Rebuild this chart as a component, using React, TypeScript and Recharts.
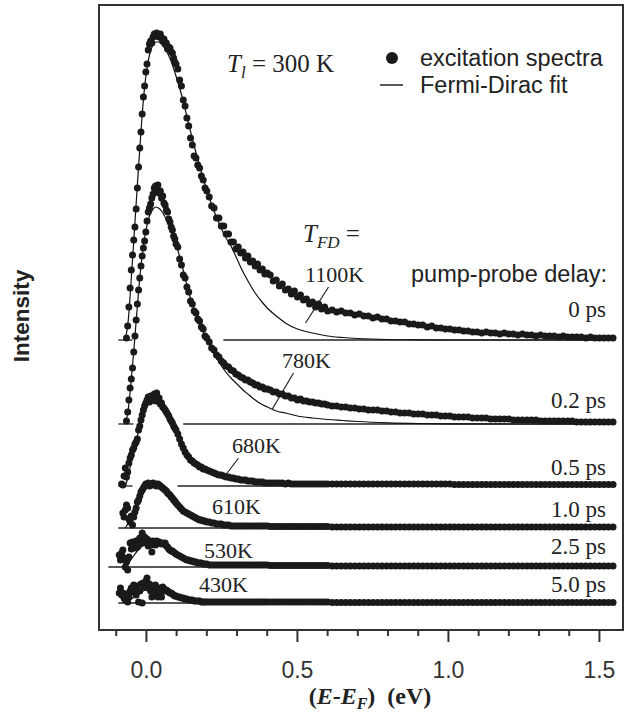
import React from 'react';
import { ComposedChart, Scatter, Line, XAxis, YAxis, ReferenceLine, ReferenceArea } from 'recharts';

// ---------------- DATA ----------------
// Energy grid (E - E_F, eV) shared by all measured spectra
const ENERGY = [
  -0.09, -0.086, -0.082, -0.078, -0.074, -0.07, -0.066, -0.062, -0.058, -0.054,
  -0.05, -0.046, -0.042, -0.038, -0.034, -0.03, -0.026, -0.022, -0.018, -0.014,
  -0.01, -0.006, -0.002, 0.002, 0.006, 0.01, 0.014, 0.018, 0.022, 0.026,
  0.03, 0.034, 0.038, 0.042, 0.046, 0.05, 0.054, 0.058, 0.062, 0.066,
  0.07, 0.074, 0.078, 0.082, 0.086, 0.09, 0.094, 0.098,
  0.104, 0.11, 0.116, 0.122, 0.128, 0.134, 0.14, 0.146, 0.152, 0.158, 0.164, 0.17, 0.176, 0.182, 0.188, 0.194, 0.2,
  0.208, 0.216, 0.224, 0.232, 0.24, 0.248, 0.256, 0.264, 0.272, 0.28, 0.288, 0.296, 0.304, 0.312, 0.32, 0.328, 0.336, 0.344, 0.352, 0.36, 0.368, 0.376, 0.384, 0.392, 0.4,
  0.41, 0.42, 0.43, 0.44, 0.45, 0.46, 0.47, 0.48, 0.49, 0.5, 0.51, 0.52, 0.53, 0.54, 0.55, 0.56, 0.57, 0.58, 0.59, 0.6,
  0.615, 0.63, 0.645, 0.66, 0.675, 0.69, 0.705, 0.72, 0.735, 0.75,
  0.765, 0.78, 0.795, 0.81, 0.825, 0.84, 0.855, 0.87, 0.885, 0.9,
  0.915, 0.93, 0.945, 0.96, 0.975, 0.99, 1.005, 1.02, 1.035, 1.05,
  1.065, 1.08, 1.095, 1.11, 1.125, 1.14, 1.155, 1.17, 1.185, 1.2,
  1.215, 1.23, 1.245, 1.26, 1.275, 1.29, 1.305, 1.32, 1.335, 1.35,
  1.365, 1.38, 1.395, 1.41, 1.425, 1.44, 1.455, 1.47, 1.485, 1.5,
  1.515, 1.53, 1.545,
];

// Excitation spectra intensities (arb. units, above each curve's own zero line)
const I_0PS = [
  null, null, null, null, null, null, 2, 14, 33, 52,
  70, 85, 100, 113, 131, 152, 173, 192, 208, 226,
  243, 254, 268, 276, 290, 296, 299, 297, 303, 306,
  304, 307, 305, 303, 306, 302, 299, 301, 296, 297,
  291, 293, 292, 288, 287, 282, 278, 276,
  271, 260, 254, 240, 234, 222, 214, 202, 195, 184, 182, 175, 172, 164, 160, 152, 149,
  143, 134, 132, 122, 122, 114, 114, 106, 106, 98, 98, 91, 93, 87, 88, 82, 84, 78, 79, 74, 76, 70, 71, 66, 67,
  65, 59, 60, 54, 56, 50, 51, 46, 49, 43, 45, 40, 41, 36, 38, 33, 36, 31, 33, 29,
  30, 28, 29, 27, 27, 25, 26, 24, 24, 22,
  23, 21, 21, 19, 19, 18, 18, 16, 16, 15,
  15, 13, 14, 12, 12, 11, 11, 10, 10, 9,
  9, 8, 8, 7, 8, 7, 7, 6, 7, 6,
  6, 5, 6, 5, 5, 4, 5, 4, 4, 4,
  3, 4, 3, 3, 3, 3, 2, 3, 2, 2,
  2, 2, 2,
];
const I_02PS = [
  null, null, null, null, null, null, 3, 12, 24, 36,
  45, 56, 72, 88, 104, 120, 134, 146, 158, 168,
  176, 183, 192, 203, 212, 216, 220, 226, 230, 236,
  238, 234, 239, 231, 233, 226, 228, 221, 219, 214,
  212, 205, 202, 197, 194, 188, 185, 180,
  177, 165, 159, 149, 146, 137, 132, 123, 120, 113, 111, 105, 103, 97, 95, 88, 86,
  82, 76, 74, 69, 67, 63, 61, 58, 57, 54, 53, 50, 49, 47, 46, 44, 44, 42, 41, 39, 39, 37, 37, 35, 35,
  34, 32, 32, 30, 30, 28, 28, 26, 26, 24, 25, 23, 23, 22, 22, 21, 21, 20, 20, 19,
  18, 18, 17, 17, 16, 16, 15, 15, 14, 14,
  14, 13, 13, 12, 12, 11, 11, 11, 10, 10,
  10, 9, 9, 9, 8, 8, 8, 7, 7, 7,
  7, 6, 6, 6, 6, 5, 5, 5, 5, 5,
  4, 4, 4, 4, 4, 4, 3, 3, 3, 3,
  3, 3, 3, 3, 2, 2, 2, 2, 2, 2,
  2, 2, 2,
];
const I_05PS = [
  null, null, 2, 1, 10, 18, 9, 14, 23, 28,
  31, 36, 38, 42, 44, 47, 56, 60, 66, 71,
  76, 80, 83, 86, 89, 84, 90, 86, 88, 92,
  85, 93, 87, 88, 82, 83, 79, 78, 76, 74,
  72, 70, 67, 65, 63, 60, 58, 56,
  52, 47, 42, 38, 34, 31, 29, 26, 25, 23, 22, 21, 19, 19, 17, 17, 16,
  15, 14, 13, 12, 11, 11, 10, 9, 9, 8, 8, 7, 7, 6, 6, 6, 5, 5, 5, 4, 4, 4, 4, 3, 3,
  3, 3, 3, 3, 3, 2, 3, 2, 2, 2, 2, 2, 2, 2, 2, 2, 2, 2, 2, 2,
  2, 2, 2, 2, 2, 2, 2, 2, 2, 2,
  2, 2, 2, 2, 2, 2, 2, 2, 2, 2,
  2, 2, 2, 2, 2, 2, 2, 1.5, 1.5, 1.5,
  1.5, 1.5, 1.5, 1.5, 1.5, 1.5, 1.5, 1.5, 1.5, 1.5,
  1.5, 1.5, 1.5, 1.5, 1.5, 1.5, 1.5, 1.5, 1.5, 1.5,
  1.5, 1.5, 1.5, 1.5, 1.5, 1.5, 1.5, 1.5, 1.5, 1.5,
  1.5, 1.5, 1.5,
];
const I_10PS = [
  null, null, null, 15, 11, 18, 23, 20, 9, 6,
  12, 3, 11, 16, 20, 26, 28, 32, 36, 38,
  40, 42, 44, 43, 45, 42, 44, 43, 45, 43,
  44, 42, 44, 43, 42, 41, 40, 39, 38, 37,
  35, 34, 33, 31, 30, 28, 27, 25,
  23, 21, 19, 17, 16, 15, 14, 13, 12, 11, 10, 9, 8, 8, 7, 7, 6,
  6, 5, 5, 4, 4, 4, 3, 3, 3, 2, 2, 2, 2, 2, 2, 2, 2, 2, 2, 2, 2, 2, 2, 2, 2,
  1.5, 1.5, 1.5, 1.5, 1.5, 1.5, 1.5, 1.5, 1.5, 1.5, 1.5, 1.5, 1.5, 1.5, 1.5, 1.5, 1.5, 1.5, 1.5, 1.5,
  1, 1, 1, 1, 1, 1, 1, 1, 1, 1,
  1, 1, 1, 1, 1, 1, 1, 1, 1, 1,
  1, 1, 1, 1, 1, 1, 1, 1, 1, 1,
  1, 1, 1, 1, 1, 1, 1, 1, 1, 1,
  1, 1, 1, 1, 1, 1, 1, 1, 1, 1,
  1, 1, 1, 1, 1, 1, 1, 1, 1, 1,
  1, 1, 1,
];
const I_25PS = [
  12, 7, 14, 17, 9, 0, 5, -3, 10, 24,
  18, 25, 22, 19, 26, 20, 27, 29, 24, 34,
  24, 30, 27, 28, 21, 26, 22, 15, 26, 25,
  22, 26, 24, 25, 24, 23, 24, 23, 24, 21,
  20, 18, 17, 16, 16, 15, 14, 13,
  12, 11, 10, 9, 8, 7, 7, 6, 6, 5, 5, 4, 4, 4, 3, 3, 3,
  2, 2, 2, 2, 2, 2, 2, 2, 2, 2, 2, 2, 2, 2, 2, 2, 2, 2, 2, 2, 2, 2, 2, 2, 2,
  1.5, 1.5, 1.5, 1.5, 1.5, 1.5, 1.5, 1.5, 1.5, 1.5, 1.5, 1.5, 1.5, 1.5, 1.5, 1.5, 1.5, 1.5, 1.5, 1.5,
  1, 1, 1, 1, 1, 1, 1, 1, 1, 1,
  1, 1, 1, 1, 1, 1, 1, 1, 1, 1,
  1, 1, 1, 1, 1, 1, 1, 1, 1, 1,
  1, 1, 1, 1, 1, 1, 1, 1, 1, 1,
  1, 1, 1, 1, 1, 1, 1, 1, 1, 1,
  1, 1, 1, 1, 1, 1, 1, 1, 1, 1,
  1, 1, 1,
];
const I_50PS = [
  10, 15, 8, 10, 5, 3, 9, 1, 6, 12,
  15, 11, 18, 14, 8, 17, 1, 12, 19, 0,
  20, 16, 22, 25, 15, 19, 12, 6, 17, 14,
  18, 9, 6, 15, 12, 6, 16, 14, 12, 13,
  12, 11, 10, 10, 9, 8, 7, 7,
  6, 6, 5, 5, 4, 4, 3, 3, 3, 2, 2, 2, 2, 1, 1, 1, 1,
  1, 1, 1, 1, 1, 1, 1, 1, 1, 1, 1, 1, 1, 1, 1, 1, 1, 1, 1, 1, 1, 1, 1, 1, 1,
  1, 1, 1, 1, 1, 1, 1, 1, 1, 1, 1, 1, 1, 1, 1, 1, 1, 1, 1, 1,
  0.5, 0.5, 0.5, 0.5, 0.5, 0.5, 0.5, 0.5, 0.5, 0.5,
  0.5, 0.5, 0.5, 0.5, 0.5, 0.5, 0.5, 0.5, 0.5, 0.5,
  0.5, 0.5, 0.5, 0.5, 0.5, 0.5, 0.5, 0.5, 0.5, 0.5,
  0.5, 0.5, 0.5, 0.5, 0.5, 0.5, 0.5, 0.5, 0.5, 0.5,
  0.5, 0.5, 0.5, 0.5, 0.5, 0.5, 0.5, 0.5, 0.5, 0.5,
  0.5, 0.5, 0.5, 0.5, 0.5, 0.5, 0.5, 0.5, 0.5, 0.5,
  0.5, 0.5, 0.5,
];

// Fermi-Dirac fit curves
const FIT_ENERGY = [
  -0.07, -0.06, -0.05, -0.04, -0.03, -0.02, -0.01, 0, 0.01, 0.02, 0.03, 0.04, 0.05, 0.06,
  0.08, 0.1, 0.12, 0.14, 0.16, 0.18, 0.2, 0.22, 0.24, 0.26, 0.28, 0.3, 0.32, 0.34, 0.36, 0.38, 0.4,
  0.43, 0.46, 0.5, 0.55, 0.6, 0.65, 0.7, 0.8, 0.9, 1.0, 1.2, 1.55,
];
const FIT_0PS = [
  0, 20, 62, 108, 155, 200, 240, 268, 285, 294, 298, 298, 296, 292,
  280, 262, 241, 216, 192, 170, 150, 132, 117, 104, 94, 81, 68, 57, 47, 39, 32,
  24, 17, 11, 7, 4, 2.5, 1.5, 0.5, 0.2, 0, 0, 0,
];
const FIT_02PS = [
  0, 15, 45, 80, 118, 152, 178, 196, 208, 214, 217, 216, 213, 208,
  196, 178, 156, 132, 112, 98, 85, 73, 62, 53, 46, 40, 34, 29, 24, 20, 17,
  13, 11, 8, 6, 4.5, 3.5, 2.5, 1.2, 0.5, 0.2, 0, 0,
];
const FIT_05PS = [
  0, 10, 25, 38, 50, 63, 74, 81, 85, 87, 87, 85, 82, 77,
  67, 55, 42, 30, 22, 17, 14, 11, 9, 7, 5.5, 4.5, 3.5, 2.8, 2.2, 1.8, 1.4,
  1, 0.7, 0.4, 0.2, 0, 0, 0, 0, 0, 0, 0, 0,
];
const FIT_10PS = [
  0, 5, 12, 18, 25, 32, 37, 40, 42, 43, 43, 42, 40, 38,
  32, 24, 18, 13, 10, 8, 6, 5, 4, 3, 2.5, 2, 1.6, 1.3, 1, 0.8, 0.6,
  0.4, 0.3, 0.2, 0.1, 0, 0, 0, 0, 0, 0, 0, 0,
];
const FIT_25PS = [
  0, 3, 8, 12, 16, 19, 22, 23, 24, 25, 25, 24, 23, 22,
  18, 13, 10, 7, 5, 4, 3, 2.4, 2, 1.6, 1.3, 1, 0.8, 0.6, 0.5, 0.4, 0.3,
  0.2, 0.1, 0, 0, 0, 0, 0, 0, 0, 0, 0, 0,
];
const FIT_50PS = [
  0, 2, 4, 6, 8, 10, 12, 13, 14, 14, 14, 14, 13, 13,
  11, 8, 6, 4, 3, 2, 1.5, 1.2, 1, 0.8, 0.6, 0.5, 0.4, 0.3, 0.2, 0.2, 0.1,
  0, 0, 0, 0, 0, 0, 0, 0, 0, 0, 0, 0,
];

// Vertical offsets of each spectrum (its zero line)
const OFFSETS = [290, 206, 144, 102, 63, 27];
const DELAY_LABELS = ['0 ps', '0.2 ps', '0.5 ps', '1.0 ps', '2.5 ps', '5.0 ps'];
const TFD_LABELS = ['1100K', '780K', '680K', '610K', '530K', '430K'];
// visible pieces of each zero line [from, to] in eV
const BASELINE_RANGES = [
  [[-0.093, -0.046], [0.255, 1.55]],
  [[-0.093, -0.043], [0.122, 1.55]],
  [[-0.093, -0.046], [0.103, 1.55]],
  [[-0.093, 1.55]],
  [[-0.126, 1.55]],
  [[-0.093, 1.55]],
];
// leader lines from temperature labels to fit curves: [x1, y1, x2, y2]
const LEADERS = [
  [0.603, 343, 0.527, 307],
  [0.487, 257, 0.417, 221],
  [0.305, 172, 0.265, 156],
];

const X_TICKS = [-0.1, 0, 0.1, 0.2, 0.3, 0.4, 0.5, 0.6, 0.7, 0.8, 0.9, 1.0, 1.1, 1.2, 1.3, 1.4, 1.5];
const MAJOR_TICKS = [0, 0.5, 1.0, 1.5];
const TICK_LABELS = ['0.0', '0.5', '1.0', '1.5'];

// ---------------- LAYOUT / STYLE ----------------
const W = 626;
const H = 715;
const X_DOMAIN = [-0.157, 1.578];
const Y_DOMAIN = [0, 625];
const INK = '#222';
const DOT = '#1a1a1a';
const SERIF = '"Liberation Serif", "Times New Roman", serif';
const SANS = '"Liberation Sans", Arial, sans-serif';
const DELAY_LABEL_POS = [317, 408, 475, 517, 554, 592];
const TFD_LABEL_POS = [[305, 282], [282, 368], [232, 453], [212, 514], [204, 558], [199, 592]];

const SPECTRA = [I_0PS, I_02PS, I_05PS, I_10PS, I_25PS, I_50PS];
const FITS = [FIT_0PS, FIT_02PS, FIT_05PS, FIT_10PS, FIT_25PS, FIT_50PS];

const scatterData = SPECTRA.map((vals, s) =>
  ENERGY.map((x, i) => (vals[i] === null || vals[i] === undefined ? null : { x, y: OFFSETS[s] + (vals[i] as number) }))
    .filter((p) => p !== null) as { x: number; y: number }[]
);
const fitData = FITS.map((vals, s) => FIT_ENERGY.map((x, i) => ({ x, y: OFFSETS[s] + vals[i] })));

const XTick = (props: any) => {
  const { x, y, payload } = props;
  const v = payload.value;
  const mi = MAJOR_TICKS.findIndex((m) => Math.abs(m - v) < 1e-6);
  const major = mi >= 0;
  return (
    <g>
      <line x1={x} x2={x} y1={y} y2={y + (major ? 12 : 6)} stroke="#333" strokeWidth={2} />
      {major && (
        <text x={x} y={y + 48} textAnchor="middle" fontFamily={SANS} fontSize={23} fill="#333">
          {TICK_LABELS[mi]}
        </text>
      )}
    </g>
  );
};

const dotShape = (p: any) => <circle cx={p.cx} cy={p.cy} r={3.5} fill={DOT} />;

export default function App() {
  return (
    <div style={{ position: 'absolute', left: 0, top: 0, width: W, height: H, background: '#fff' }}>
      <ComposedChart width={W} height={H} margin={{ top: 5, right: 3, bottom: 0, left: 99 }}>
        <XAxis
          type="number"
          dataKey="x"
          domain={X_DOMAIN}
          allowDataOverflow
          ticks={X_TICKS}
          interval={0}
          tick={<XTick />}
          tickLine={false}
          axisLine={false}
          tickSize={0}
          tickMargin={0}
          height={85}
        />
        <YAxis type="number" dataKey="y" domain={Y_DOMAIN} allowDataOverflow hide />
        <ReferenceArea
          x1={X_DOMAIN[0]}
          x2={X_DOMAIN[1]}
          y1={Y_DOMAIN[0]}
          y2={Y_DOMAIN[1]}
          fill="#fff"
          fillOpacity={0}
          stroke="#333"
          strokeWidth={2}
          ifOverflow="visible"
        />
        {BASELINE_RANGES.map((ranges, s) =>
          ranges.map((r, k) => (
            <ReferenceLine
              key={`b${s}-${k}`}
              segment={[{ x: r[0], y: OFFSETS[s] }, { x: r[1], y: OFFSETS[s] }]}
              stroke={INK}
              strokeWidth={1.3}
              ifOverflow="visible"
            />
          ))
        )}
        {LEADERS.map((l, k) => (
          <ReferenceLine
            key={`l${k}`}
            segment={[{ x: l[0], y: l[1] }, { x: l[2], y: l[3] }]}
            stroke={INK}
            strokeWidth={1.2}
            ifOverflow="visible"
          />
        ))}
        {fitData.map((d, s) => (
          <Line
            key={`f${s}`}
            data={d}
            dataKey="y"
            type="monotone"
            dot={false}
            stroke="#111"
            strokeWidth={1.2}
            isAnimationActive={false}
          />
        ))}
        {scatterData.map((d, s) => (
          <Scatter key={`s${s}`} data={d} dataKey="y" shape={dotShape} isAnimationActive={false} />
        ))}
      </ComposedChart>
      <svg
        width={W}
        height={H}
        style={{ position: 'absolute', left: 0, top: 0, pointerEvents: 'none' }}
      >
        {/* y-axis title */}
        <text
          x={29}
          y={316}
          transform="rotate(-90 29 316)"
          textAnchor="middle"
          fontFamily={SANS}
          fontWeight="bold"
          fontSize={22.5}
          fill={INK}
        >
          Intensity
        </text>
        {/* x-axis title */}
        <text x={370} y={704} textAnchor="middle" fontFamily={SERIF} fontWeight="bold" fontSize={24} fill={INK}>
          (<tspan fontStyle="italic">E</tspan>-<tspan fontStyle="italic">E</tspan>
          <tspan fontStyle="italic" fontSize={16} dy={5}>F</tspan>
          <tspan dy={-5}>)</tspan>
          <tspan dx={12}>(eV)</tspan>
        </text>
        {/* lattice temperature */}
        <text x={227} y={72} fontFamily={SERIF} fontSize={25} fill={INK}>
          <tspan fontStyle="italic">T</tspan>
          <tspan fontStyle="italic" fontSize={17} dy={6}>l</tspan>
          <tspan dy={-6}> = 300 K</tspan>
        </text>
        {/* legend */}
        <circle cx={392} cy={58} r={6} fill={DOT} />
        <text x={420} y={66} fontFamily={SANS} fontSize={23.5} fill={INK}>excitation spectra</text>
        <line x1={380} x2={403} y1={85} y2={85} stroke={INK} strokeWidth={1.5} />
        <text x={420} y={93} fontFamily={SANS} fontSize={23.5} fill={INK}>Fermi-Dirac fit</text>
        {/* T_FD = */}
        <text x={303} y={242} fontFamily={SERIF} fontSize={25} fill={INK}>
          <tspan fontStyle="italic">T</tspan>
          <tspan fontStyle="italic" fontSize={17} dy={6}>FD</tspan>
          <tspan dy={-6}> =</tspan>
        </text>
        <text x={607} y={282} textAnchor="end" fontFamily={SANS} fontSize={23.5} fill={INK}>pump-probe delay:</text>
        {DELAY_LABELS.map((t, i) => (
          <text key={t} x={606} y={DELAY_LABEL_POS[i]} textAnchor="end" fontFamily={SERIF} fontSize={23} fill={INK}>
            {t}
          </text>
        ))}
        {TFD_LABELS.map((t, i) => (
          <text key={t} x={TFD_LABEL_POS[i][0]} y={TFD_LABEL_POS[i][1]} fontFamily={SERIF} fontSize={22} fill={INK}>
            {t}
          </text>
        ))}
      </svg>
    </div>
  );
}
